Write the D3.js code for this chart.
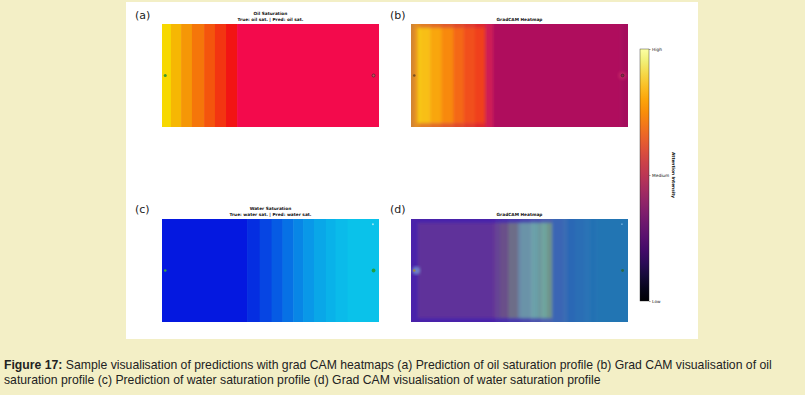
<!DOCTYPE html>
<html>
<head>
<meta charset="utf-8">
<title>GradCAM saturation figure</title>
<script src="https://cdn.jsdelivr.net/npm/d3@7"></script>
<style>
  html, body { margin: 0; padding: 0; background: #f3efc6; }
  svg { display: block; }
  .tiny { font-family: "DejaVu Sans", sans-serif; font-size: 4.3px; fill: #111; }
  .tag { font-family: "DejaVu Sans", sans-serif; font-size: 11px; fill: #222; }
  .caption { font-family: "Liberation Sans", Arial, sans-serif; font-size: 12px; fill: #222; }
</style>
</head>
<body>
<svg id="fig" width="805" height="395"></svg>
<script>
// base images: column start (0-100 across the model) and saturation of each column
const oilCols = [0, 4.1, 8.8, 13.8, 19.4, 24.4, 29.5, 34.6];
const oilSat = [0.10, 0.20, 0.30, 0.40, 0.50, 0.60, 0.70, 0.85];
const waterCols = [0, 39.2, 45, 50.5, 55.5, 60.5, 65, 70, 75.5, 80, 85.5];
const waterSat = [0.15, 0.25, 0.35, 0.45, 0.55, 0.64, 0.72, 0.79, 0.84, 0.88, 0.91];

// GradCAM attention per column, and at the top / bottom rim
const oilAttCols = [0, 1.4, 3.2, 8.8, 14.3, 19.4, 24, 34.1, 37.8, 96.8];
const oilAtt = [0.45, 0.6, 0.87, 0.83, 0.78, 0.7, 0.67, 0.45, 0.3, 0.25];
const waterAttCols = [0, 3.2, 37.8, 41, 44.7, 49.3, 58.5, 62.7, 65, 71.9, 82.5];
const waterAtt = [0.45, 0.6, 0.65, 0.72, 0.8, 0.92, 0.88, 0.8, 0.35, 0.25, 0.2];
const oilRimAtt = 0.55;
const waterRimAtt = 0.45;

// wells (model coords 0-100)
const wellX = [1.5, 97.5];
const wellY = [50, 50];
const monitorX = 97.2, monitorY = 5;

const cbTicks = [0, 0.5, 1];
const cbLabels = ["Low", "Medium", "High"];

const captionBold = "Figure 17:";
const captionLine1 = " Sample visualisation of predictions with grad CAM heatmaps (a) Prediction of oil saturation profile (b) Grad CAM visualisation of oil";
const captionLine2 = "saturation profile (c) Prediction of water saturation profile (d) Grad CAM visualisation of water saturation profile";

const oilColor = d3.scaleLinear().domain([0.1, 0.7, 0.85]).range(["#f7d800", "#f21414", "#f30a4c"]);
const waterColor = d3.scaleLinear().domain([0.15, 0.91]).range(["#0418e0", "#0ac2ea"]);

const svg = d3.select("#fig");
svg.append("rect").attr("x", 126).attr("y", 2).attr("width", 572).attr("height", 337).attr("fill", "#fff");

const defs = svg.append("defs");
defs.append("filter").attr("id", "soft").attr("x", "-5%").attr("y", "-5%").attr("width", "110%").attr("height", "110%")
  .append("feGaussianBlur").attr("stdDeviation", 1.8);
defs.append("filter").attr("id", "halo").append("feGaussianBlur").attr("stdDeviation", 1.6);

const W = 217, H = 103;

function spans(cols) {
  return cols.map((c, i) => [c, i + 1 < cols.length ? cols[i + 1] : 100]);
}

function panel(id, x0, y0, cols, vals, color, attCols, att, rimAtt, overlay) {
  const x = d3.scaleLinear().domain([0, 100]).range([x0, x0 + W]);
  const y = d3.scaleLinear().domain([0, 100]).range([y0, y0 + H]);
  defs.append("clipPath").attr("id", "clip-" + id)
    .append("rect").attr("x", x0).attr("y", y0).attr("width", W).attr("height", H);
  const g = svg.append("g").attr("clip-path", `url(#clip-${id})`);
  const base = spans(cols).map((s, i) => ({ a: s[0], b: s[1], c: color(vals[i]) }));
  if (!attCols) {
    g.selectAll("rect").data(base).join("rect")
      .attr("x", d => x(d.a)).attr("width", d => x(d.b) - x(d.a) + 0.5)
      .attr("y", y0).attr("height", H).attr("fill", d => d.c);
    return { x, y };
  }
  // overlay: each base column split by attention columns, blended with inferno
  const pieces = [];
  const attSpans = spans(attCols);
  const rimH = 4;
  base.forEach(bs => attSpans.forEach((as, j) => {
    const a = Math.max(bs.a, as[0]), b = Math.min(bs.b, as[1]);
    if (b <= a) return;
    const mid = d3.interpolateRgb(bs.c, d3.interpolateInferno(att[j]))(overlay);
    const rim = d3.interpolateRgb(bs.c, d3.interpolateInferno(Math.min(att[j], rimAtt)))(overlay);
    const first = a === 0, last = b === 100;
    pieces.push({ a: first ? -4 : a, b: last ? 104 : b, y: y0 - 6, h: rimH + 6, c: rim });
    pieces.push({ a: first ? -4 : a, b: last ? 104 : b, y: y0 + rimH, h: H - 2 * rimH, c: mid });
    pieces.push({ a: first ? -4 : a, b: last ? 104 : b, y: y0 + H - rimH, h: rimH + 6, c: rim });
  }));
  const inner = g.append("g").attr("filter", "url(#soft)");
  inner.selectAll("rect").data(pieces).join("rect")
    .attr("x", d => x(d.a)).attr("width", d => x(d.b) - x(d.a) + 0.4)
    .attr("y", d => d.y).attr("height", d => d.h).attr("fill", d => d.c);
  return { x, y };
}

function title(cx, yTop, lines) {
  lines.forEach((t, i) => svg.append("text").attr("class", "tiny").attr("font-weight", "bold")
    .attr("x", cx).attr("y", yTop + i * 5.6).attr("text-anchor", "middle").text(t));
}

function tag(x, y, t) {
  svg.append("text").attr("class", "tag").attr("x", x).attr("y", y).text(t);
}

// (a) oil saturation
const pa = panel("a", 162, 24, oilCols, oilSat, oilColor);
title(270.5, 15, ["Oil Saturation", "True: oil sat. | Pred: oil sat."]);
tag(135, 19, "(a)");
svg.append("circle").attr("cx", pa.x(wellX[0])).attr("cy", pa.y(wellY[0])).attr("r", 1.5).attr("fill", "#3f9a2a");
svg.append("circle").attr("cx", pa.x(wellX[1])).attr("cy", pa.y(wellY[1])).attr("r", 1.5)
  .attr("fill", "#c8505a").attr("stroke", "#4a2430").attr("stroke-width", 0.7);

// (b) GradCAM on oil
const pb = panel("b", 411, 24, oilCols, oilSat, oilColor, oilAttCols, oilAtt, oilRimAtt, 0.5);
title(519.5, 21, ["GradCAM Heatmap"]);
tag(390, 19, "(b)");
svg.append("circle").attr("cx", pb.x(wellX[1])).attr("cy", pb.y(wellY[1])).attr("r", 4)
  .attr("fill", "#d0306a").attr("opacity", 0.6).attr("filter", "url(#halo)");
svg.append("circle").attr("cx", pb.x(wellX[0])).attr("cy", pb.y(wellY[0])).attr("r", 1.3).attr("fill", "#7a5020");
svg.append("circle").attr("cx", pb.x(wellX[1])).attr("cy", pb.y(wellY[1])).attr("r", 1.4)
  .attr("fill", "#8a3048").attr("stroke", "#3a1a28").attr("stroke-width", 0.6);

// (c) water saturation
const pc = panel("c", 162, 219, waterCols, waterSat, waterColor);
title(270.5, 210, ["Water Saturation", "True: water sat. | Pred: water sat."]);
tag(135, 213, "(c)");
svg.append("circle").attr("cx", pc.x(wellX[0])).attr("cy", pc.y(wellY[0])).attr("r", 1.3).attr("fill", "#3aa040");
svg.append("circle").attr("cx", pc.x(wellX[1])).attr("cy", pc.y(wellY[1])).attr("r", 1.9).attr("fill", "#1fa046");
svg.append("circle").attr("cx", pc.x(monitorX)).attr("cy", pc.y(monitorY)).attr("r", 1).attr("fill", "#9ae6f4");

// (d) GradCAM on water
const pd = panel("d", 411, 219, waterCols, waterSat, waterColor, waterAttCols, waterAtt, waterRimAtt, 0.42);
title(519.5, 216, ["GradCAM Heatmap"]);
tag(390, 213, "(d)");
svg.append("circle").attr("cx", pd.x(wellX[0]) + 2).attr("cy", pd.y(wellY[0])).attr("r", 4)
  .attr("fill", "#7aa8d8").attr("opacity", 0.7).attr("filter", "url(#halo)");
svg.append("circle").attr("cx", pd.x(wellX[0])).attr("cy", pd.y(wellY[0])).attr("r", 1.3).attr("fill", "#a08a40");
svg.append("circle").attr("cx", pd.x(wellX[1])).attr("cy", pd.y(wellY[1])).attr("r", 1.4).attr("fill", "#2a6a48");
svg.append("circle").attr("cx", pd.x(monitorX)).attr("cy", pd.y(monitorY)).attr("r", 0.9).attr("fill", "#6aa8d8");

// colour bar
const cb = d3.scaleLinear().domain([0, 1]).range([301, 49]);
const grad = defs.append("linearGradient").attr("id", "inferno").attr("x1", 0).attr("y1", 1).attr("x2", 0).attr("y2", 0);
d3.range(0, 1.0001, 0.05).forEach(t => grad.append("stop").attr("offset", t).attr("stop-color", d3.interpolateInferno(t)));
svg.append("rect").attr("x", 640).attr("y", cb(1)).attr("width", 9).attr("height", cb(0) - cb(1))
  .attr("fill", "url(#inferno)").attr("stroke", "#222").attr("stroke-width", 0.4);
const ax = svg.append("g").attr("transform", "translate(649,0)")
  .call(d3.axisRight(cb).tickValues(cbTicks).tickFormat((d, i) => cbLabels[i]).tickSize(1.6).tickPadding(1.5));
ax.select(".domain").remove();
ax.selectAll("line").attr("stroke", "#222").attr("stroke-width", 0.4);
ax.selectAll("text").attr("class", "tiny").attr("font-size", null).attr("font-family", null);
svg.append("text").attr("class", "tiny").attr("font-weight", "bold")
  .attr("transform", `translate(672,${cb(0.5)}) rotate(90)`).attr("text-anchor", "middle").text("Attention Intensity");

// caption
const cap = svg.append("g");
const l1 = cap.append("text").attr("class", "caption").attr("x", 4).attr("y", 369);
l1.append("tspan").attr("font-weight", "bold").text(captionBold);
l1.append("tspan").text(captionLine1);
const l2 = cap.append("text").attr("class", "caption").attr("x", 4).attr("y", 384).text(captionLine2);
const k = 768 / l1.node().getComputedTextLength();
cap.attr("transform", `translate(4,0) scale(${k},1) translate(-4,0)`);
</script>
</body>
</html>
